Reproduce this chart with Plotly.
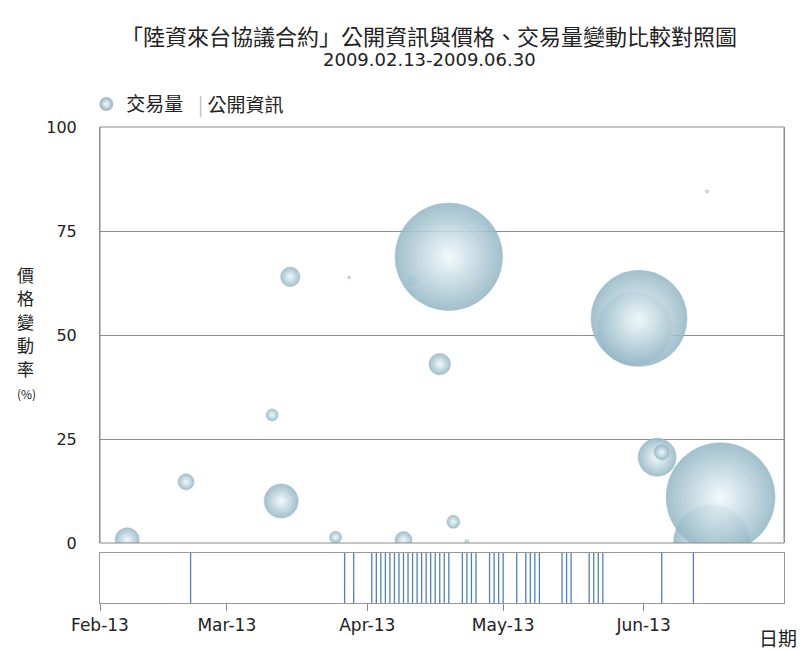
import plotly.graph_objects as go

# 交易量 (bubble size) and 價格變動率 (%) per trading day
bubble_dates = [
    "2009-02-19", "2009-03-04", "2009-03-23", "2009-03-25", "2009-03-27",
    "2009-04-06", "2009-04-09", "2009-04-21", "2009-04-23", "2009-04-29",
    "2009-05-01", "2009-05-02", "2009-05-05", "2009-06-11", "2009-06-12",
    "2009-06-16", "2009-06-17", "2009-06-27", "2009-06-28", "2009-06-30",
]
price_change = [
    0.8, 14.7, 30.8, 10.1, 64.0,
    1.4, 63.8, 0.7, 63.0, 43.0,
    68.8, 5.1, 0.3, 51.5, 54.0,
    20.6, 21.8, 84.5, 0.0, 11.0,
]
volume = [
    1440, 640, 360, 2890, 940,
    360, 22, 720, 160, 1150,
    28840, 420, 40, 13470, 23040,
    3610, 560, 22, 14440, 29700,
]

# 公開資訊 release dates
info_dates = [
    "2009-03-05",
    "2009-04-08", "2009-04-10",
    "2009-04-14", "2009-04-15", "2009-04-16", "2009-04-17", "2009-04-18",
    "2009-04-19", "2009-04-20", "2009-04-21", "2009-04-22", "2009-04-23",
    "2009-04-24", "2009-04-25", "2009-04-26", "2009-04-27", "2009-04-28",
    "2009-04-29", "2009-04-30", "2009-05-01",
    "2009-05-04", "2009-05-05", "2009-05-06", "2009-05-07",
    "2009-05-10", "2009-05-11", "2009-05-12", "2009-05-13",
    "2009-05-16",
    "2009-05-18", "2009-05-19", "2009-05-20", "2009-05-21",
    "2009-05-26", "2009-05-27", "2009-05-28",
    "2009-06-01", "2009-06-02", "2009-06-03", "2009-06-04",
    "2009-06-17", "2009-06-24",
]

x_tick_dates = ["2009-02-13", "2009-03-13", "2009-04-13", "2009-05-13", "2009-06-13"]
x_tick_labels = ["Feb-13", "Mar-13", "Apr-13", "May-13", "Jun-13"]
y_ticks = [0, 25, 50, 75, 100]

y_title_chars = ["價", "格", "變", "動", "率"]

CJK = "Noto Sans CJK TC"
LATIN = "DejaVu Sans"
GRID = "#8c8c8c"
TEXT = "#222"

fig = go.Figure()

fig.add_trace(go.Scatter(
    x=bubble_dates, y=price_change, mode="markers", name="交易量",
    xaxis="x", yaxis="y", cliponaxis=True, showlegend=True,
    marker=dict(
        size=volume, sizemode="area", sizeref=5, sizemin=1,
        color="#94b8c6", opacity=0.88,
        gradient=dict(type="radial", color="#f2f9fb"),
        line=dict(color="#9ab7c4", width=0.6),
    ),
))

# vertical rule for each information release, spanning the lower strip
line_x, line_y = [], []
for d in info_dates:
    line_x += [d, d, None]
    line_y += [0, 1, None]
fig.add_trace(go.Scatter(
    x=line_x, y=line_y, mode="lines", name="公開資訊",
    xaxis="x", yaxis="y2", showlegend=False,
    line=dict(color="#4f81bd", width=1.3),
))

annotations = [
    dict(text="「陸資來台協議合約」公開資訊與價格、交易量變動比較對照圖",
         xref="paper", yref="paper", x=0.4817, y=1.193,
         xanchor="center", yanchor="middle", showarrow=False,
         font=dict(family=CJK, size=22, color=TEXT)),
    dict(text="2009.02.13-2009.06.30",
         xref="paper", yref="paper", x=0.481, y=1.141,
         xanchor="center", yanchor="middle", showarrow=False,
         font=dict(family=LATIN, size=18, color=TEXT)),
    dict(text="<span style='color:#bbb'>|</span> 公開資訊",
         xref="paper", yref="paper", x=0.14, y=1.048,
         xanchor="left", yanchor="middle", showarrow=False,
         font=dict(family=CJK, size=19, color=TEXT)),
    dict(text="(%)",
         xref="paper", yref="paper", x=-0.108, y=(603 - 393) / 476,
         xanchor="center", yanchor="middle", showarrow=False,
         font=dict(family=CJK, size=12, color=TEXT)),
    dict(text="日期",
         xref="paper", yref="paper", x=0.991, y=-0.0735,
         xanchor="center", yanchor="middle", showarrow=False,
         font=dict(family=CJK, size=19, color=TEXT)),
]
# vertical axis title, one character per row
for i, ch in enumerate(y_title_chars):
    annotations.append(dict(
        text=ch, xref="paper", yref="paper",
        x=-0.1096, y=(603 - (274 + 23.5 * i)) / 476,
        xanchor="center", yanchor="middle", showarrow=False,
        font=dict(family=CJK, size=17, color=TEXT),
    ))

fig.update_layout(
    width=806, height=653,
    margin=dict(l=100, r=22, t=127, b=50),
    paper_bgcolor="white", plot_bgcolor="white",
    font=dict(family=LATIN, color=TEXT),
    xaxis=dict(
        domain=[0, 1], anchor="y2",
        range=["2009-02-13", "2009-07-14"],
        tickmode="array", tickvals=x_tick_dates, ticktext=x_tick_labels,
        ticks="outside", ticklen=7, tickcolor="#888",
        tickfont=dict(family=LATIN, size=17, color=TEXT),
        showline=True, mirror=True, linecolor="#999", linewidth=1,
        showgrid=False, zeroline=False,
    ),
    yaxis=dict(
        domain=[0.126, 1], anchor="x",
        range=[0, 100], tickmode="array", tickvals=y_ticks,
        ticks="", ticklabelstandoff=19,
        tickfont=dict(family=LATIN, size=16, color=TEXT),
        showgrid=True, gridcolor=GRID, gridwidth=1,
        zeroline=False, showline=True, mirror=True, linecolor=GRID,
    ),
    yaxis2=dict(
        domain=[0, 0.105], anchor="x", range=[0, 1],
        showticklabels=False, ticks="", showgrid=False, zeroline=False,
        showline=True, mirror=True, linecolor="#999",
    ),
    legend=dict(
        orientation="h", x=-0.02, xanchor="left", y=1.048, yanchor="middle",
        itemsizing="constant", bgcolor="rgba(0,0,0,0)",
        font=dict(family=CJK, size=19, color=TEXT),
    ),
    shapes=[dict(
        type="rect", xref="x domain", yref="y domain",
        x0=0, x1=1, y0=0, y1=1, layer="above",
        line=dict(color=GRID, width=1),
    )],
    annotations=annotations,
)

fig.write_html("out.html")
